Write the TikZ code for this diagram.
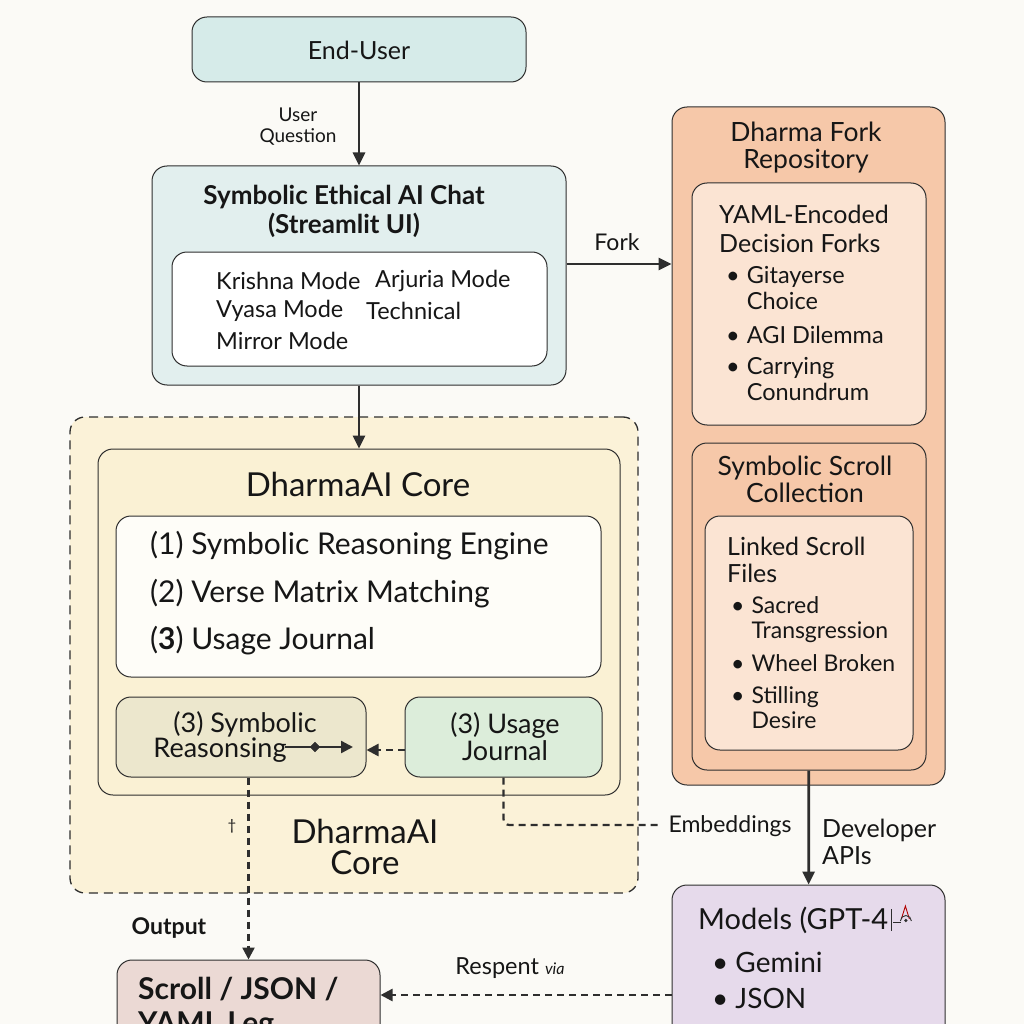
\documentclass[tikz,border=0pt]{standalone}
\usepackage{fontspec}
\setmainfont{Lato}
\usetikzlibrary{arrows.meta}
\definecolor{bgc}{HTML}{FBFAF6}
\definecolor{linec}{HTML}{2E2E2E}
\definecolor{tealA}{HTML}{D6EBE9}
\definecolor{tealB}{HTML}{E2EFEE}
\definecolor{yelO}{HTML}{FBF2D8}
\definecolor{yelI}{HTML}{FAF1D4}
\definecolor{whiteY}{HTML}{FEFDF8}
\definecolor{olive}{HTML}{ECE7CD}
\definecolor{mint}{HTML}{DCEDDA}
\definecolor{peach}{HTML}{F6C8A9}
\definecolor{peachL}{HTML}{FBE4D3}
\definecolor{lav}{HTML}{E6DAEB}
\definecolor{rose}{HTML}{EBD9D4}
\definecolor{ink}{HTML}{161616}
\newcommand{\fs}[2]{\fontsize{#1}{#2}\selectfont}
\begin{document}
\begin{tikzpicture}[x=1pt,y=-1pt,
  rbox/.style={draw=linec, line width=1pt, rounded corners=15pt, inner sep=0pt},
  arr/.style={draw=linec, line width=2.8pt, -{Triangle[length=13pt,width=12pt]}},
  darr/.style={draw=linec, line width=2.4pt, dash pattern=on 7pt off 5pt, -{Triangle[length=12pt,width=12pt]}},
  dline/.style={draw=linec, line width=2.2pt, dash pattern=on 7pt off 5pt},
  txt/.style={inner sep=0pt, text=ink},
]
\useasboundingbox (0,0) rectangle (1024,1024);
\clip (0,0) rectangle (1024,1024);
\fill[bgc] (0,0) rectangle (1024,1024);

% ---------- boxes ----------
\node[rbox, fill=tealA, minimum width=334pt, minimum height=65pt] (user) at (359,49.5) {};
\node[rbox, fill=tealB, minimum width=414pt, minimum height=219pt] (chat) at (359,275.5) {};
\node[rbox, fill=white, minimum width=375pt, minimum height=114pt] (modes) at (359.5,309) {};

\node[rbox, fill=yelO, line width=1.3pt, dash pattern=on 9pt off 6pt, minimum width=568pt, minimum height=476pt] (outer) at (354,655) {};
\node[rbox, fill=yelI, minimum width=522pt, minimum height=346pt] (core) at (359,622) {};
\node[rbox, fill=whiteY, minimum width=485pt, minimum height=161pt] (list) at (358.5,596.5) {};
\node[rbox, fill=olive, minimum width=250pt, minimum height=80pt] (sym) at (241,737) {};
\node[rbox, fill=mint, minimum width=197pt, minimum height=80pt] (usage) at (503.5,737) {};

\node[rbox, fill=peach, minimum width=273pt, minimum height=678pt] (repo) at (808.5,446) {};
\node[rbox, fill=peachL, minimum width=234pt, minimum height=242pt] (yaml) at (809,304) {};
\node[rbox, fill=peach, minimum width=234pt, minimum height=327pt] (scoll) at (809,606.5) {};
\node[rbox, fill=peachL, minimum width=208pt, minimum height=234pt] (linked) at (809,633) {};

\node[rbox, fill=lav, minimum width=273pt, minimum height=175pt] (models) at (808.5,972.5) {};
\node[rbox, fill=rose, minimum width=263pt, minimum height=100pt] (sout) at (248.5,1010) {};

% ---------- texts ----------
\node[txt, font=\fs{25}{28}] (tuser) at (359,50) {End-User};
\node[txt, font=\fs{19}{21}, align=center] (tq) at (298,127) {User\\Question};

\node[txt, font=\fs{26}{29}\bfseries, align=center] (tchat) at (344,211) {Symbolic Ethical AI Chat\\(Streamlit UI)};
\node[txt, font=\fs{23.5}{28}, anchor=west] (m1) at (216,281) {Krishna Mode};
\node[txt, font=\fs{23.5}{28}, anchor=west] (m2) at (375,281) {Arjuria Mode};
\node[txt, font=\fs{23.5}{28}, anchor=west] (m3) at (216,311) {Vyasa Mode};
\node[txt, font=\fs{23.5}{28}, anchor=west] (m4) at (366,311) {Technical};
\node[txt, font=\fs{23.5}{28}, anchor=west] (m5) at (216,341) {Mirror Mode};

\node[txt, font=\fs{23}{26}] (tfork) at (617,242) {Fork};

\node[txt, font=\fs{33}{36}] (tcore) at (358,484) {DharmaAI Core};
\node[txt, font=\fs{30}{32}, anchor=west] (l1) at (150,546) {(1) Symbolic Reasoning Engine};
\node[txt, font=\fs{30}{32}, anchor=west] (l2) at (150,594) {(2) Verse Matrix Matching};
\node[txt, font=\fs{30}{32}, anchor=west] (l3) at (150,641) {(\textbf{3}) Usage Journal};

\node[txt, font=\fs{27}{30}] (tsym1) at (245,724) {(3) Symbolic};
\node[txt, font=\fs{27}{30}] (tsym2) at (220,750) {Reasonsing};
\node[txt, font=\fs{27}{27}, align=center] (tusage) at (505,737) {(3) Usage\\Journal};

\node[txt, font=\fs{15}{16}] (dag) at (232,826) {†};
\node[txt, font=\fs{33}{31}, align=center] (tcore2) at (365,847) {DharmaAI\\Core};
\node[txt, font=\fs{23}{26}\bfseries] (tout) at (169,928) {Output};
\node[txt, font=\fs{23}{26}] (temb) at (730,826) {Embeddings};
\node[txt, font=\fs{25}{27}, align=left, anchor=west] (tdev) at (822,842) {Developer\\APIs};
\node[txt, font=\fs{23.5}{26}] (tresp) at (510,968) {Respent \textit{\fs{16}{18}via}};

\node[txt, font=\fs{26.5}{27}, align=center] (trepo) at (806,148) {Dharma Fork\\Repository};
\node[txt, font=\fs{25}{29}, align=left, anchor=west] (tyaml) at (719,228.5) {YAML-Encoded\\Decision Forks};
\node[txt, font=\fs{23.5}{26}, anchor=west] (b1) at (726,291) {\begin{tabular}{@{}l@{\hspace{7pt}}l@{}}•&Gitayerse\\&Choice\end{tabular}};
\node[txt, font=\fs{23.5}{26}, anchor=west] (b2) at (726,338) {\begin{tabular}{@{}l@{\hspace{7pt}}l@{}}•&AGI Dilemma\end{tabular}};
\node[txt, font=\fs{23.5}{26}, anchor=west] (b3) at (726,382.5) {\begin{tabular}{@{}l@{\hspace{7pt}}l@{}}•&Carrying\\&Conundrum\end{tabular}};

\node[txt, font=\fs{26.5}{27}, align=center] (tscoll) at (805,479.5) {Symbolic Scroll\\Collection};
\node[txt, font=\fs{25}{27}, align=left, anchor=west] (tlinked) at (727,559.5) {Linked Scroll\\Files};
\node[txt, font=\fs{23}{25}, anchor=west] (c1) at (731,621) {\begin{tabular}{@{}l@{\hspace{7pt}}l@{}}•&Sacred\\&Transgression\end{tabular}};
\node[txt, font=\fs{23}{25}, anchor=west] (c2) at (731,666) {\begin{tabular}{@{}l@{\hspace{7pt}}l@{}}•&Wheel Broken\end{tabular}};
\node[txt, font=\fs{23}{25}, anchor=west] (c3) at (731,710.5) {\begin{tabular}{@{}l@{\hspace{7pt}}l@{}}•&Stilling\\&Desire\end{tabular}};

\node[txt, font=\fs{29}{32}, anchor=west] (tmod) at (698,920) {Models (GPT-4};
\node[txt, font=\fs{28}{30}, anchor=west] (g1) at (712,966) {\begin{tabular}{@{}l@{\hspace{7pt}}l@{}}•&Gemini\end{tabular}};
\node[txt, font=\fs{28}{30}, anchor=west] (g2) at (712,1002) {\begin{tabular}{@{}l@{\hspace{7pt}}l@{}}•&JSON\end{tabular}};
% small lamp glyph after GPT-4
\draw[linec, line width=0.5pt] (tmod.east) ++(3,-11) -- ++(0,22);
\draw[linec, line width=0.8pt] (tmod.east) ++(5,2) -- ++(8,0);
\draw[red!70!black, line width=0.9pt] (tmod.east) ++(13,-1) -- ++(4,-13) -- ++(4,13);
\draw[linec, line width=0.9pt] (tmod.east) ++(12,1) arc[start angle=180, end angle=360, radius=5.5];
\fill[linec] (tmod.east) ++(17.5,0.5) circle (1.8);

\node[txt, font=\fs{30}{34}\bfseries, anchor=west, align=left] (tsout) at (138,1008) {Scroll / JSON /\\YAML Leg};

% ---------- connectors ----------
\draw[arr] (user) -- (chat);
\draw[arr] ([yshift=11.5pt]chat.east) coordinate (fk) -- (fk -| repo.west);
\draw[arr] (chat) -- (core);
\draw[darr] ([yshift=-13pt]usage.west) coordinate (uj) -- (uj -| sym.east);
\coordinate (ia) at (285,747);
\coordinate (ib) at (353,747);
\draw[draw=linec, line width=2.4pt, -{Triangle[length=12pt,width=12pt]}] (ia) -- (ib);
\node[draw=linec, fill=linec, inner sep=0pt, shape=rectangle, rotate=45, minimum width=7pt, minimum height=7pt] (dm) at (315,747) {};
\coordinate (ee) at (662,825);
\draw[dline, rounded corners=6pt] (usage.south) |- (ee);
\draw[darr] (sym.south -| sout.north) -- (sout.north);
\draw[arr] (scoll) -- (models);
\draw[darr] ([yshift=-22.5pt]models.west) coordinate (rv) -- (rv -| sout.east);
\end{tikzpicture}
\end{document}
